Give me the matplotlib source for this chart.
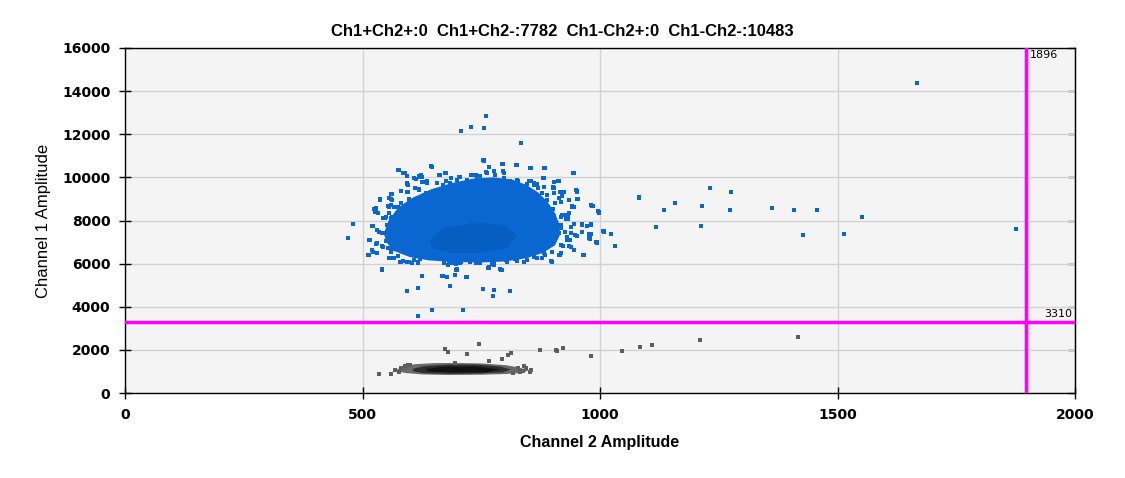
import matplotlib
matplotlib.use("Agg")
import matplotlib.pyplot as plt

# --- data ------------------------------------------------------------------
title_text = "Ch1+Ch2+:0  Ch1+Ch2-:7782  Ch1-Ch2+:0  Ch1-Ch2-:10483"
thresh_ch2 = 1896
thresh_ch1 = 3310

# outline of the (nearly) solid part of the Ch1+ (blue) cluster
blue_core_x = [545, 555, 575, 605, 645, 690, 735, 775, 815, 845, 870, 890, 905, 915, 915,
               905, 880, 845, 800, 745, 690, 640, 600, 565, 550]
blue_core_y = [7400, 8000, 8600, 9050, 9450, 9750, 9950, 10000, 9900, 9650, 9300, 8850,
               8350, 7800, 7300, 6850, 6500, 6250, 6100, 6050, 6080, 6150, 6300, 6600, 7000]
# darker centre of the blue cluster
blue_dark_x = [640, 670, 735, 795, 825, 805, 745, 685, 650]
blue_dark_y = [7050, 7650, 7900, 7800, 7300, 6750, 6500, 6500, 6700]

# single blue droplets around the cluster
blue_x = [760, 728, 756, 707, 834, 754, 644, 766, 794, 823, 853, 882, 944, 574, 586, 593,
          623, 673, 1083, 950, 952, 997, 984, 940, 536, 525, 559, 561, 481, 470, 521, 530,
          511, 514, 521, 530, 540, 559, 578, 593, 616, 625, 667, 678, 694, 697, 718, 684,
          754, 777, 775, 811, 792, 764, 646, 711, 616, 897, 914, 965, 1032, 1024, 1007, 992,
          977, 977, 963, 948, 937, 982, 963, 929, 920, 933, 939, 912, 901, 880, 870, 855,
          828, 811, 796, 777, 760, 739, 729, 720, 703, 676, 661, 635, 618, 610, 593, 593,
          580, 561, 553, 574, 549, 544, 561, 553, 542, 575, 586, 604, 616, 622, 683, 696,
          708, 739, 773, 803, 822, 852, 868, 878, 883, 922, 930, 913, 914, 901, 891, 906,
          916, 920,
          576, 589, 646, 618, 595, 618, 597, 555, 537, 528, 533, 547, 523, 541, 516, 528,
          513, 531, 555, 562, 580, 597, 617, 542, 625, 669, 679, 699, 720, 563, 608, 625,
          636, 597, 576, 564, 550, 569, 590, 583,
          755, 795, 826, 854, 884, 945, 914, 904, 952, 934, 953, 941, 983, 998, 932, 945,
          973, 1008, 980, 993, 966, 934, 917, 915, 898, 878, 868, 839, 793, 766, 776, 914,
          889, 927, 906, 889, 899, 875, 917, 861, 882,
          # top band
          645, 756, 767, 795, 824, 854, 883, 945, 576, 590, 618, 625, 663, 675, 686, 706,
          731, 741, 748, 761, 762, 778, 797, 797, 826, 850, 861, 879, 903, 914, 594, 613,
          632, 657, 670, 684, 699, 713, 720, 738, 752, 769, 783, 808, 815, 833, 847, 868,
          883, 901, 917, 925, 952, 562, 596, 618, 634, 646, 664, 678, 696, 713, 727, 748,
          762, 783, 804, 826, 847, 878, 903, 934, 952, 537, 555, 580, 601, 615, 636, 664,
          889, 917, 945, 985, 528, 566,
          # sides and bottom band
          523, 551, 534, 544, 516, 530, 544, 513, 523, 559, 566, 580, 594, 608, 622, 541,
          562, 580, 527, 555, 671, 688, 706, 727, 748, 766, 776, 790, 804, 826, 847, 861,
          878, 899, 699, 889, 903, 924, 934, 998, 945, 963, 980, 917, 938, 952, 979, 1008,
          994, 931, 917, 938, 917, 945, 966, 899, 885, 917, 906, 899,
          # far outliers
          982, 995, 980, 978, 978, 991, 1006, 1023, 1031, 1082, 1118, 1135, 1158, 1215, 1213,
          1232, 1276, 1274, 1361, 1409, 1428, 1456, 1513, 1551, 1668, 1876]
blue_y = [12867, 12356, 12309, 12170, 11613, 10824, 10545, 10499, 10638, 10592, 10453, 10453,
          10220, 10360, 10220, 10081, 10097, 10220, 9060, 9400, 9014, 8410, 8689, 8673, 8983,
          8549, 9230, 9014, 7853, 7203, 7760, 7559, 6414, 7110, 6646, 6507, 5718, 6275, 6089,
          4743, 4882, 5439, 5423, 5392, 5485, 5718, 5392, 4975, 4836, 4789, 4511, 4743, 5718,
          5795, 3861, 3861, 3582, 6135, 6414, 6414, 6832, 7389, 7528, 7017, 7389, 7203, 7482,
          7342, 7079, 7853, 7853, 8085, 8271, 8085, 7714, 9849, 9524, 9988, 9524, 9818, 9849,
          9833, 10282, 10282, 10267, 10128, 10128, 9865, 10035, 9818, 10128, 9725, 10004, 9524,
          9725, 9338, 9385, 8704, 8673, 8642, 8162, 8131, 8100, 6739, 6816, 6352, 6135, 6042,
          6042, 6290, 6042, 5965, 6058, 6042, 5981, 6151, 6197, 6429, 6275, 6275, 6507, 6816,
          7250, 7435, 7698, 8518, 8518, 8828, 9323, 9137,
          10329, 10190, 10497, 10065, 9647, 9416, 8998, 8641, 8952, 8520, 8364, 8102, 7746,
          7407, 7082, 6897, 6401, 6478, 6246, 6679, 6061, 6090, 6061, 5690, 5412, 5412, 5937,
          5705, 5366, 8952, 9958, 9801, 9848, 7792, 7175, 7685, 7050, 6865, 6554, 7328,
          10793, 10607, 10560, 10422, 10422, 10190, 9818, 9493, 9355, 8952, 8984, 8641, 8659,
          8381, 8256, 7825, 7761, 7500, 7361, 6971, 6387, 6832, 6865, 6401, 6090, 6246, 6246,
          6090, 5690, 5783, 6016, 9030, 9184, 7482, 7096, 7946, 8256, 8720, 7792, 9647, 9958,
          # top band
          10529, 10776, 10467, 10606, 10560, 10436, 10421, 10189, 10328, 10189, 10080, 10034,
          10111, 10189, 9957, 10003, 10096, 10034, 10065, 10266, 10189, 10096, 10220, 9988,
          9879, 9817, 9756, 9957, 9787, 9833, 9694, 9910, 9787, 9725, 9648, 9725, 9879, 9601,
          9725, 9802, 9694, 9756, 9848, 9725, 9601, 9570, 9694, 9694, 9570, 9539, 9323, 9323,
          9338, 9215, 9307, 9447, 9261, 9261, 9338, 9385, 9323, 9338, 9261, 9416, 9385, 9261,
          9338, 9261, 9323, 9261, 9261, 8936, 8998, 8952, 9060, 8797, 8874, 8720, 8797, 8952,
          8952, 8874, 8643, 8674, 8565, 8643,
          # sides and bottom band
          7746, 7792, 7483, 7406, 7097, 6942, 6787, 6401, 6556, 6556, 6246, 6092, 6092, 6169,
          6200, 5736, 8179, 8179, 8411, 8364, 6014, 6014, 6045, 6092, 6014, 5829, 5937, 5736,
          6092, 6138, 6169, 6324, 6246, 6092, 5736, 8179, 8210, 8256, 8364, 8364, 7839, 7792,
          7792, 7638, 7406, 7282, 7329, 7483, 6988, 7097, 6865, 6787, 6478, 6633, 6401, 6556,
          6401, 8179, 7870, 7251,
          # far outliers
          8698, 8419, 7860, 7395, 7163, 7023, 7535, 7395, 6837, 9070, 7721, 8465, 8791, 8651,
          7767, 9488, 9302, 8465, 8558, 8465, 7349, 8465, 7395, 8140, 14365, 7593]

# Ch1- (grey) cluster: outer, middle and darkest outlines
grey_outer_x = [572, 588, 612, 655, 704, 753, 802, 830, 850, 835, 800, 753, 683, 627, 591, 576]
grey_outer_y = [1085, 1250, 1340, 1390, 1390, 1370, 1290, 1180, 1050, 930, 880, 850, 835, 860,
                925, 990]
grey_mid_x = [605, 630, 683, 739, 790, 812, 795, 745, 683, 630, 608]
grey_mid_y = [1110, 1250, 1320, 1320, 1230, 1090, 960, 905, 890, 920, 1000]
grey_dark_x = [632, 670, 740, 790, 760, 690, 640]
grey_dark_y = [1100, 1230, 1230, 1090, 960, 950, 1000]

grey_x = [534, 559, 569, 576, 595, 827, 831, 838, 852, 674, 679, 746, 719, 694, 767, 793, 807,
          812, 873, 907, 909, 922, 981, 1046, 1084, 1109, 1211, 1416, 816, 582, 590, 600, 845,
          840, 855]
grey_y = [884, 899, 1085, 961, 1302, 1163, 977, 1008, 977, 2046, 1907, 2279, 1814, 1395, 1488,
          1581, 1767, 1860, 2000, 2000, 1950, 2093, 1721, 1953, 2139, 2232, 2465, 2604, 930, 1180,
          1270, 1320, 1150, 1240, 1060]

x_ticks = [0, 500, 1000, 1500, 2000]
y_ticks = [0, 2000, 4000, 6000, 8000, 10000, 12000, 14000, 16000]

# --- figure ----------------------------------------------------------------
blue = "#0a66d0"
fig = plt.figure(figsize=(11.25, 4.78), dpi=100)
ax = fig.add_axes([0.1111, 0.1778, 0.8445, 0.7218])
ax.set_facecolor("#f4f4f4")

ax.fill(blue_core_x, blue_core_y, color=blue, lw=0, zorder=2)
ax.fill(blue_dark_x, blue_dark_y, color="#004c9c", lw=0, alpha=0.3, zorder=2)
ax.scatter(blue_x, blue_y, s=6.5, marker="s", color=blue, lw=0, zorder=3)

ax.fill(grey_outer_x, grey_outer_y, color="#6a6a6a", lw=0, zorder=2)
ax.fill(grey_mid_x, grey_mid_y, color="#2e2e2e", lw=0, zorder=2)
ax.fill(grey_dark_x, grey_dark_y, color="#111111", lw=0, zorder=2)
ax.scatter(grey_x, grey_y, s=6.5, marker="s", color="#5e5e5e", lw=0, zorder=3)

# threshold lines
ax.axvline(thresh_ch2, color="#ff00ff", lw=2.5, zorder=4)
ax.axhline(thresh_ch1, color="#ff00ff", lw=2.5, zorder=4)
ax.text(thresh_ch2 + 8, 15900, str(thresh_ch2), fontsize=8, va="top", ha="left", zorder=5)
ax.text(1995, thresh_ch1 + 120, str(thresh_ch1), fontsize=8, va="bottom", ha="right", zorder=5)

ax.set_xlim(0, 2000)
ax.set_ylim(0, 16000)
ax.set_xticks(x_ticks)
ax.set_yticks(y_ticks)
ax.grid(True, color="#d2d2d2", lw=1, zorder=0)
ax.set_axisbelow(True)
for sp in ax.spines.values():
    sp.set_linewidth(1)
ax.tick_params(direction="inout", length=9, width=1, labelsize=10, pad=6)
for lbl in ax.get_xticklabels() + ax.get_yticklabels():
    lbl.set_fontweight("bold")

# inward ticks on the right edge, no labels
right = ax.secondary_yaxis("right")
right.set_yticks(y_ticks)
right.tick_params(direction="in", length=5, width=1, labelright=False)

# title is centred on the whole figure, not on the axes
fig.text(0.5, 0.935, title_text, ha="center", va="center", fontsize=12, fontweight="bold",
         family="Liberation Sans")
ax.set_xlabel("Channel 2 Amplitude", fontsize=11.5, fontweight="bold",
              family="Liberation Sans", labelpad=10)
ax.set_ylabel("Channel 1 Amplitude", fontsize=12, family="Liberation Sans", labelpad=8)

fig.savefig("out.png", dpi=100)
